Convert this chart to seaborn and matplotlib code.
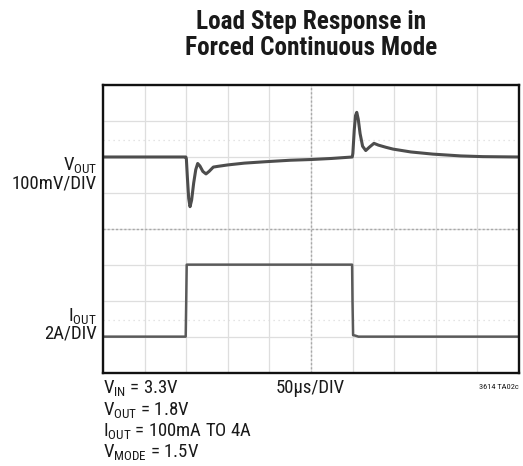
"""
Load step response (forced continuous mode) — scope capture redrawn with seaborn.
"""

import matplotlib

matplotlib.use("Agg")
import matplotlib.pyplot as plt
import numpy as np
import pandas as pd
import seaborn as sns
from matplotlib import font_manager

# ---- data -----------------------------------------------------------------
# time axis: 50 µs/DIV, 10 divisions
TIME_PER_DIV = 50
N_XDIV, N_YDIV = 10, 8

# V_OUT: deviation from 1.8V in mV (100mV/DIV), trace sits 6 div from bottom
vout_t = [0, 99.6, 100.2, 101.5, 103.0, 104.6, 106.5, 109.0, 111.5, 113.8,
          116.5, 120.0, 123.8, 127.5, 132.6, 138.0, 150.0, 170.0, 196.0, 225.0,
          250.0, 275.0, 299.6, 300.3, 302.0, 303.5, 305.0, 306.8, 309.0, 312.0,
          315.8, 320.0, 325.7, 331.0, 340.0, 348.5, 370.0, 396.5, 430.0, 456.5, 500]
vout_mv = [0, 0, -5, -60, -115, -138, -120, -72, -35, -18,
           -25, -40, -47, -40, -28, -26, -22, -17, -13, -9,
           -7, -4, 0, 10, 75, 115, 124, 105, 65, 30,
           18, 27, 38, 33, 27, 22, 14, 8, 3, 1, 0]
VOUT_BASE_DIV = 6.0

# I_OUT: amps (2A/DIV)
iout_t = [0, 99.4, 100.0, 100.6, 299.4, 299.9, 300.6, 303.0, 307.0, 500]
iout_a = [0.1, 0.1, 2.0, 4.1, 4.1, 2.0, 0.18, 0.16, 0.1, 0.1]
IOUT_ZERO_DIV = 0.96

TITLE_LINES = ["Load Step Response in", "Forced Continuous Mode"]
VOUT_LABEL = [r"V$_{\mathrm{OUT}}$", "100mV/DIV"]
IOUT_LABEL = [r"I$_{\mathrm{OUT}}$", "2A/DIV"]
COND_LINES = [
    r"V$_{\mathrm{IN}}$ = 3.3V",
    r"V$_{\mathrm{OUT}}$ = 1.8V",
    r"I$_{\mathrm{OUT}}$ = 100mA TO 4A",
    r"V$_{\mathrm{MODE}}$ = 1.5V",
]
TIMEBASE = "50µs/DIV"
FIG_ID = "3614 TA02c"

# ---- style -----------------------------------------------------------------
sns.set_style("white")
names = set(font_manager.get_font_names())
FONT = next(
    (f for f in ["Liberation Sans Narrow", "Roboto Condensed", "Arial Narrow",
                 "Roboto", "Liberation Sans"] if f in names),
    "DejaVu Sans",
)
plt.rcParams["font.family"] = [FONT, "DejaVu Sans"]
plt.rcParams["mathtext.fontset"] = "custom"
plt.rcParams["mathtext.rm"] = FONT
plt.rcParams["mathtext.it"] = FONT
plt.rcParams["mathtext.bf"] = f"{FONT}:bold"

W, H = 523, 466
fig = plt.figure(figsize=(W / 100, H / 100), dpi=100)
# plot box in pixels: x 103..519, y 85..373
ax = fig.add_axes([103 / W, 1 - 373 / H, 416 / W, 288 / H])


def px(x, y):
    return x / W, 1 - y / H


vout = pd.DataFrame({
    "t": vout_t,
    "div": VOUT_BASE_DIV + np.array(vout_mv) / 100.0,
})
iout = pd.DataFrame({
    "t": iout_t,
    "div": IOUT_ZERO_DIV + np.array(iout_a) / 2.0,
})

# graticule
ax.set_xlim(0, N_XDIV * TIME_PER_DIV)
ax.set_ylim(0, N_YDIV)
ax.set_xticks(np.arange(0, N_XDIV * TIME_PER_DIV + 1, TIME_PER_DIV))
ax.set_yticks(np.arange(0, N_YDIV + 1))
ax.grid(True, color="#dedede", lw=0.9)
ax.tick_params(length=0, labelbottom=False, labelleft=False)
ax.axvline(N_XDIV * TIME_PER_DIV / 2, color="#a8a8a8", lw=1.0, ls=(0, (1.5, 1.5)))
ax.axhline(N_YDIV / 2, color="#a8a8a8", lw=1.0, ls=(0, (1.5, 1.5)))
for y in (6.47, 1.47):
    ax.axhline(y, color="#dcdcdc", lw=0.9, ls=(0, (1, 3)))
for s in ax.spines.values():
    s.set_color("#111111")
    s.set_linewidth(1.7)

sns.lineplot(data=vout, x="t", y="div", ax=ax, color="#4d4d4d", lw=2.2,
             estimator=None, sort=False)
sns.lineplot(data=iout, x="t", y="div", ax=ax, color="#5a5a5a", lw=1.8,
             estimator=None, sort=False)
ax.set_xlabel("")
ax.set_ylabel("")

# title
for line, yb in zip(TITLE_LINES, [29, 55]):
    fig.text(*px(311, yb), line, ha="center", va="baseline",
             fontsize=18.2, fontweight="bold", color="#1a1a1a")

# channel labels
for (a, b), (y1, y2) in [(VOUT_LABEL, (170, 189)), (IOUT_LABEL, (321, 339))]:
    fig.text(*px(97, y1), a, ha="right", va="baseline", fontsize=13.5,
             color="#1a1a1a")
    fig.text(*px(97, y2), b, ha="right", va="baseline", fontsize=13.5,
             color="#1a1a1a")

# test conditions
for line, yb in zip(COND_LINES, [393, 415, 436, 457]):
    fig.text(*px(103, yb), line, ha="left", va="baseline", fontsize=13.5,
             color="#1a1a1a")
fig.text(*px(310, 393), TIMEBASE, ha="center", va="baseline", fontsize=13.5,
         color="#1a1a1a")
fig.text(*px(519, 389), FIG_ID, ha="right", va="baseline", fontsize=6.0,
         color="#1a1a1a")

fig.savefig("out.png", dpi=100)
plt.close(fig)
